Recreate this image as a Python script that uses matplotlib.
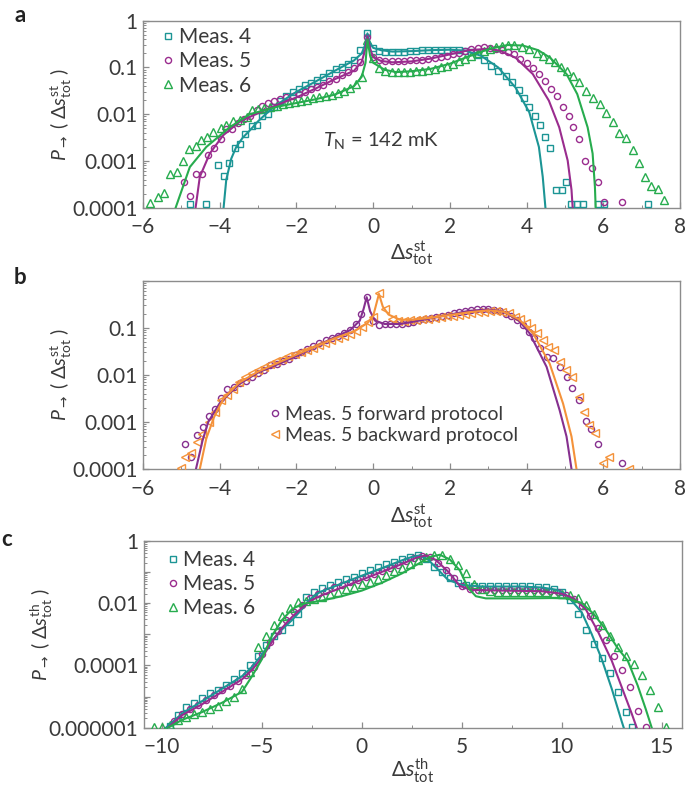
import numpy as np
import matplotlib
matplotlib.use("Agg")
import matplotlib.pyplot as plt
from matplotlib.ticker import FixedLocator, LogLocator, NullFormatter, FuncFormatter, MultipleLocator

plt.rcParams['font.family'] = ['Lato', 'DejaVu Sans']
plt.rcParams['mathtext.fontset'] = 'custom'
plt.rcParams['mathtext.rm'] = 'Lato'
plt.rcParams['mathtext.it'] = 'Lato:italic'
plt.rcParams['mathtext.sf'] = 'DejaVu Sans'
plt.rcParams['axes.unicode_minus'] = True

# ---------------- data (log10 of probability) ----------------
# Panel a, Meas. 4
a4_x = [-4.78, -4.35, -4.04, -3.90, -3.77, -3.59, -3.46, -3.33, -3.17, -3.04, -2.89, -2.74, -2.58, -2.42,
        -2.26, -2.10, -1.94, -1.78, -1.62, -1.46, -1.30, -1.14, -0.98, -0.82, -0.66, -0.50, -0.34, -0.16,
        0.00, 0.16, 0.32, 0.48, 0.64, 0.80, 0.96, 1.12, 1.28, 1.44, 1.60, 1.76, 1.92, 2.08, 2.24, 2.40,
        2.56, 2.72, 2.90, 3.08, 3.26, 3.46, 3.62, 3.80, 3.94, 4.07, 4.22, 4.36, 4.48, 4.62, 4.77, 4.91,
        5.03, 5.16, 5.31, 5.46, 5.87, 6.02, 7.17]
a4_y = [-3.93, -3.93, -3.09, -3.32, -3.04, -2.72, -2.63, -2.43, -2.26, -2.24, -2.03, -1.99, -1.85, -1.72,
        -1.62, -1.52, -1.45, -1.38, -1.33, -1.27, -1.20, -1.12, -1.04, -0.98, -0.92, -0.85, -0.62, -0.26,
        -0.58, -0.64, -0.66, -0.67, -0.66, -0.66, -0.64, -0.64, -0.63, -0.62, -0.62, -0.62, -0.62, -0.62,
        -0.63, -0.64, -0.67, -0.74, -0.85, -0.96, -1.07, -1.18, -1.32, -1.48, -1.65, -1.84, -2.03, -2.24,
        -2.49, -2.72, -3.62, -3.62, -3.46, -3.93, -3.93, -3.93, -3.93, -3.93, -3.93]
a4_fit_x = [-3.90, -3.83, -3.70, -3.57, -3.40, -3.22, -3.00, -2.87, -2.60, -2.30, -2.00, -1.50, -1.00,
            -0.50, -0.30, -0.20, -0.15, -0.10, 0.00, 0.20, 0.50, 1.00, 1.50, 2.00, 2.40, 2.81, 3.26, 3.71,
            4.07, 4.32, 4.42, 4.49]
a4_fit_y = [-4.00, -3.40, -2.95, -2.70, -2.50, -2.35, -2.15, -2.05, -1.85, -1.68, -1.52, -1.30, -1.07,
            -0.85, -0.70, -0.50, -0.27, -0.45, -0.58, -0.63, -0.66, -0.65, -0.63, -0.62, -0.64, -0.75, -1.00,
            -1.43, -1.96, -2.70, -3.34, -4.00]

# Panel a, Meas. 5
a5_x = [-4.93, -4.78, -4.63, -4.45, -4.30, -4.15, -3.98, -3.83, -3.67, -3.52, -3.37, -3.22, -3.04, -2.91,
        -2.74, -2.58, -2.42, -2.26, -2.10, -1.94, -1.78, -1.62, -1.46, -1.30, -1.14, -0.98, -0.82, -0.66,
        -0.50, -0.34, -0.16, 0.00, 0.16, 0.32, 0.48, 0.64, 0.80, 0.96, 1.12, 1.28, 1.44, 1.60, 1.76, 1.92,
        2.08, 2.24, 2.40, 2.56, 2.72, 2.88, 3.04, 3.20, 3.36, 3.52, 3.68, 3.84, 4.00, 4.16, 4.32, 4.48,
        4.64, 4.80, 4.96, 5.10, 5.22, 5.37, 5.53, 5.70, 5.87, 6.03, 6.48]
a5_y = [-3.46, -3.74, -3.28, -3.28, -2.88, -2.72, -2.54, -2.32, -2.31, -2.18, -2.11, -2.04, -1.92, -1.82,
        -1.77, -1.72, -1.68, -1.64, -1.60, -1.56, -1.52, -1.47, -1.42, -1.37, -1.30, -1.24, -1.17, -1.10,
        -1.02, -0.88, -0.34, -0.78, -0.85, -0.86, -0.87, -0.87, -0.86, -0.85, -0.84, -0.83, -0.81, -0.79,
        -0.77, -0.75, -0.72, -0.69, -0.65, -0.61, -0.59, -0.57, -0.58, -0.60, -0.62, -0.66, -0.72, -0.82,
        -0.91, -1.02, -1.14, -1.28, -1.46, -1.62, -1.84, -2.03, -2.28, -2.52, -2.99, -3.14, -3.46, -3.88,
        -3.88]
a5_fit_x = [-4.63, -4.52, -4.26, -3.91, -3.48, -3.04, -2.50, -2.00, -1.50, -1.00, -0.50, -0.30, -0.20,
            -0.15, -0.08, 0.00, 0.20, 0.50, 1.00, 1.50, 2.00, 2.50, 3.00, 3.30, 3.71, 4.16, 4.58, 4.85,
            5.07, 5.17, 5.20]
a5_fit_y = [-4.00, -3.34, -2.84, -2.45, -2.16, -1.99, -1.80, -1.64, -1.45, -1.25, -1.07, -0.88, -0.60,
            -0.33, -0.60, -0.78, -0.86, -0.89, -0.87, -0.81, -0.72, -0.63, -0.60, -0.64, -0.79, -1.14, -1.71,
            -2.28, -2.99, -3.62, -4.00]

# Panel a, Meas. 6
a6_x = [-5.83, -5.61, -5.46, -5.30, -5.11, -4.97, -4.80, -4.63, -4.48, -4.33, -4.17, -3.98, -3.83, -3.65,
        -3.48, -3.30, -3.15, -3.00, -2.84, -2.68, -2.52, -2.36, -2.20, -2.04, -1.88, -1.72, -1.56, -1.40,
        -1.24, -1.08, -0.92, -0.76, -0.60, -0.44, -0.30, -0.16, 0.00, 0.16, 0.32, 0.48, 0.64, 0.80, 0.96,
        1.12, 1.28, 1.44, 1.60, 1.76, 1.92, 2.08, 2.24, 2.40, 2.56, 2.72, 2.88, 3.04, 3.20, 3.36, 3.52,
        3.68, 3.89, 4.07, 4.27, 4.43, 4.59, 4.74, 4.90, 5.06, 5.22, 5.37, 5.55, 5.74, 5.91, 6.07, 6.24,
        6.41, 6.59, 6.77, 6.93, 7.09, 7.24, 7.42, 7.59]
a6_y = [-3.89, -3.77, -3.68, -3.28, -3.23, -3.00, -2.74, -2.69, -2.55, -2.49, -2.38, -2.29, -2.22, -2.15,
        -2.12, -2.06, -1.92, -1.89, -1.87, -1.84, -1.82, -1.79, -1.76, -1.73, -1.71, -1.69, -1.66, -1.63,
        -1.61, -1.58, -1.54, -1.50, -1.44, -1.36, -1.20, -0.42, -0.80, -1.02, -1.08, -1.10, -1.10, -1.10,
        -1.09, -1.08, -1.07, -1.05, -1.03, -1.00, -0.97, -0.92, -0.87, -0.82, -0.76, -0.70, -0.65, -0.60,
        -0.56, -0.53, -0.51, -0.51, -0.56, -0.61, -0.68, -0.75, -0.82, -0.89, -1.00, -1.07, -1.18, -1.32,
        -1.50, -1.65, -1.78, -1.98, -2.17, -2.40, -2.50, -2.76, -3.05, -3.35, -3.53, -3.59, -3.84]
a6_fit_x = [-5.15, -4.78, -4.35, -3.74, -3.22, -2.50, -2.00, -1.50, -1.00, -0.50, -0.30, -0.20, -0.15,
            -0.08, 0.00, 0.30, 0.60, 1.00, 1.50, 2.00, 2.50, 3.00, 3.50, 3.90, 4.30, 4.61, 5.04, 5.32,
            5.59, 5.72, 5.78, 5.80]
a6_fit_y = [-4.00, -3.13, -2.70, -2.28, -2.00, -1.84, -1.76, -1.68, -1.58, -1.40, -1.20, -0.90, -0.40,
            -0.75, -0.90, -1.05, -1.10, -1.08, -1.03, -0.92, -0.76, -0.61, -0.52, -0.53, -0.63, -0.79, -1.14,
            -1.57, -2.28, -2.84, -3.55, -4.00]

# Panel b, Meas. 5 forward
bf_x = [-4.91, -4.75, -4.59, -4.44, -4.29, -4.12, -3.96, -3.80, -3.64, -3.48, -3.32, -3.16, -3.00, -2.84,
        -2.68, -2.52, -2.36, -2.20, -2.04, -1.88, -1.72, -1.56, -1.40, -1.24, -1.08, -0.92, -0.76, -0.60,
        -0.44, -0.32, -0.17, 0.00, 0.15, 0.30, 0.45, 0.60, 0.75, 0.90, 1.05, 1.20, 1.35, 1.50, 1.65, 1.80,
        1.95, 2.10, 2.25, 2.40, 2.55, 2.70, 2.85, 3.00, 3.15, 3.30, 3.45, 3.60, 3.75, 3.90, 4.05, 4.20,
        4.36, 4.52, 4.70, 4.86, 5.04, 5.19, 5.37, 5.54, 5.69, 5.86, 6.48]
bf_y = [-3.46, -3.75, -3.28, -3.10, -2.88, -2.72, -2.50, -2.31, -2.25, -2.18, -2.13, -2.05, -1.97, -1.90,
        -1.80, -1.76, -1.71, -1.66, -1.58, -1.52, -1.45, -1.38, -1.33, -1.27, -1.22, -1.18, -1.12, -1.05,
        -0.92, -0.71, -0.34, -0.85, -0.94, -0.93, -0.93, -0.93, -0.92, -0.90, -0.87, -0.84, -0.82, -0.80,
        -0.77, -0.74, -0.72, -0.69, -0.66, -0.64, -0.62, -0.60, -0.60, -0.61, -0.62, -0.65, -0.70, -0.76,
        -0.84, -0.95, -1.08, -1.22, -1.42, -1.62, -1.65, -1.83, -2.04, -2.27, -2.54, -2.98, -3.14, -3.46,
        -3.87]
bf_fit_x = [-4.62, -4.45, -4.30, -4.00, -3.50, -3.00, -2.50, -2.00, -1.50, -1.00, -0.60, -0.35, -0.25,
            -0.17, -0.08, 0.05, 0.30, 0.70, 1.00, 1.50, 2.00, 2.50, 3.00, 3.40, 3.80, 4.08, 4.52, 4.86,
            5.04, 5.17]
bf_fit_y = [-4.00, -3.40, -3.00, -2.60, -2.20, -1.95, -1.78, -1.60, -1.40, -1.20, -1.05, -0.85, -0.60,
            -0.35, -0.65, -0.85, -0.92, -0.92, -0.88, -0.80, -0.72, -0.64, -0.61, -0.66, -0.85, -1.12, -1.83,
            -2.75, -3.31, -4.00]

# Panel b, Meas. 5 backward
bb_x = [-5.01, -4.90, -4.75, -4.60, -4.45, -4.29, -4.13, -3.97, -3.81, -3.65, -3.49, -3.33, -3.17, -3.01,
        -2.85, -2.69, -2.53, -2.37, -2.21, -2.05, -1.89, -1.73, -1.57, -1.41, -1.25, -1.09, -0.93, -0.77,
        -0.61, -0.45, -0.29, -0.13, 0.00, 0.15, 0.32, 0.48, 0.64, 0.80, 0.96, 1.12, 1.28, 1.44, 1.60,
        1.76, 1.92, 2.08, 2.24, 2.40, 2.56, 2.72, 2.88, 3.04, 3.20, 3.36, 3.54, 3.69, 3.82, 3.98, 4.12,
        4.27, 4.43, 4.56, 4.71, 4.86, 5.02, 5.17, 5.37, 5.49, 5.63, 5.77, 6.00, 6.16, 6.67]
bb_y = [-3.98, -3.75, -3.65, -3.42, -3.26, -3.00, -2.78, -2.54, -2.42, -2.30, -2.15, -2.05, -1.97, -1.90,
        -1.84, -1.76, -1.71, -1.66, -1.61, -1.55, -1.51, -1.47, -1.42, -1.37, -1.32, -1.26, -1.22, -1.18,
        -1.13, -1.07, -0.98, -0.88, -0.78, -0.27, -0.61, -0.82, -0.85, -0.85, -0.84, -0.83, -0.82, -0.81,
        -0.80, -0.78, -0.76, -0.74, -0.72, -0.70, -0.68, -0.67, -0.66, -0.65, -0.65, -0.66, -0.68, -0.77,
        -0.82, -0.89, -1.01, -1.11, -1.26, -1.40, -1.47, -1.72, -1.90, -2.05, -2.46, -2.78, -3.07, -3.24,
        -3.88, -3.74, -3.99]
bb_fit_x = [-4.52, -4.35, -4.15, -3.90, -3.50, -3.00, -2.50, -2.00, -1.50, -1.00, -0.50, -0.15, 0.00,
            0.08, 0.15, 0.25, 0.40, 0.70, 1.00, 1.50, 2.00, 2.50, 3.00, 3.40, 3.80, 4.17, 4.60, 4.95,
            5.17, 5.30]
bb_fit_y = [-4.00, -3.35, -2.90, -2.50, -2.17, -1.93, -1.75, -1.57, -1.40, -1.22, -1.08, -0.90, -0.75,
            -0.50, -0.28, -0.55, -0.72, -0.83, -0.83, -0.79, -0.73, -0.67, -0.63, -0.66, -0.82, -1.12, -1.76,
            -2.61, -3.31, -4.00]

# Panel c, Meas. 4
c4_x = [-9.6, -9.2, -8.8, -8.4, -8.0, -7.6, -7.2, -6.8, -6.4, -6.0, -5.6, -5.2, -4.8, -4.4, -4.0, -3.6,
        -3.2, -2.8, -2.4, -2.0, -1.6, -1.2, -0.8, -0.4, 0.0, 0.4, 0.8, 1.2, 1.6, 2.0, 2.4, 2.8, 3.2, 3.6,
        4.0, 4.4, 4.8, 5.2, 5.6, 6.0, 6.4, 6.8, 7.2, 7.6, 8.0, 8.4, 8.8, 9.2, 9.6, 10.0, 10.4, 10.8, 11.2,
        11.6, 12.0, 12.4, 12.8, 13.2, 13.5]
c4_y = [-5.95, -5.60, -5.35, -5.20, -5.05, -4.90, -4.78, -4.62, -4.45, -4.25, -4.00, -3.70, -3.35, -3.05,
        -2.85, -2.62, -2.35, -1.82, -1.65, -1.52, -1.42, -1.33, -1.24, -1.15, -1.05, -0.95, -0.85, -0.76,
        -0.67, -0.59, -0.52, -0.47, -0.58, -0.83, -1.00, -1.18, -1.35, -1.42, -1.45, -1.45, -1.45, -1.45,
        -1.45, -1.45, -1.45, -1.46, -1.48, -1.50, -1.55, -1.65, -1.90, -2.35, -2.85, -3.30, -3.75, -4.25,
        -4.85, -5.50, -5.97]
c4_fit_x = [-9.80, -9.0, -8.0, -7.0, -6.0, -5.5, -5.0, -4.5, -4.0, -3.5, -3.0, -2.7, -2.3, -2.0, -1.0,
            0.0, 1.0, 2.0, 2.5, 2.9, 3.3, 3.8, 4.3, 5.0, 6.0, 8.0, 9.0, 9.8, 10.3, 11.0, 11.5, 12.0, 12.5,
            13.0, 13.1]
c4_fit_y = [-6.00, -5.55, -5.15, -4.75, -4.35, -4.05, -3.65, -3.20, -2.85, -2.55, -2.20, -1.95, -1.72,
            -1.62, -1.37, -1.12, -0.88, -0.63, -0.52, -0.47, -0.60, -0.92, -1.25, -1.42, -1.47, -1.47,
            -1.50, -1.58, -1.78, -2.30, -3.00, -3.80, -4.75, -5.80, -6.00]

# Panel c, Meas. 5
c5_x = [-9.4, -9.0, -8.6, -8.2, -7.8, -7.4, -7.0, -6.6, -6.2, -5.8, -5.4, -5.0, -4.6, -4.2, -3.8, -3.4,
        -3.0, -2.6, -2.2, -1.8, -1.4, -1.0, -0.6, -0.2, 0.2, 0.6, 1.0, 1.4, 1.8, 2.2, 2.6, 3.0, 3.4, 3.8,
        4.2, 4.6, 5.0, 5.4, 5.8, 6.2, 6.6, 7.0, 7.4, 7.8, 8.2, 8.6, 9.0, 9.4, 9.8, 10.2, 10.6, 11.0, 11.4,
        11.8, 12.2, 12.6, 13.0, 13.4, 13.8, 14.2]
c5_y = [-5.80, -5.55, -5.40, -5.27, -5.10, -4.95, -4.80, -4.65, -4.50, -4.30, -4.05, -3.65, -3.25, -2.90,
        -2.55, -2.30, -2.05, -1.85, -1.70, -1.60, -1.50, -1.42, -1.33, -1.25, -1.17, -1.08, -0.98, -0.88,
        -0.78, -0.66, -0.55, -0.48, -0.52, -0.70, -0.95, -1.20, -1.45, -1.55, -1.57, -1.57, -1.57, -1.57,
        -1.57, -1.57, -1.57, -1.58, -1.60, -1.62, -1.66, -1.74, -1.88, -2.10, -2.40, -2.80, -3.20, -3.70,
        -4.15, -4.70, -5.45, -5.97]
c5_fit_x = [-9.7, -9.0, -8.0, -7.0, -6.0, -5.5, -5.0, -4.5, -4.0, -3.5, -3.0, -2.5, -2.0, -1.0, 0.0, 1.0,
            2.0, 2.7, 3.2, 3.7, 4.3, 4.9, 5.5, 7.0, 9.0, 10.0, 10.6, 11.2, 11.8, 12.5, 13.0, 13.5, 13.75]
c5_fit_y = [-6.00, -5.60, -5.25, -4.85, -4.45, -4.15, -3.75, -3.25, -2.80, -2.45, -2.15, -1.90, -1.75,
            -1.50, -1.25, -1.00, -0.75, -0.55, -0.47, -0.62, -0.98, -1.45, -1.58, -1.60, -1.62, -1.70,
            -1.85, -2.20, -2.90, -3.85, -4.70, -5.55, -6.00]

# Panel c, Meas. 6
c6_x = [-10.4, -10.0, -9.6, -9.2, -8.8, -8.4, -8.0, -7.6, -7.2, -6.8, -6.4, -6.0, -5.6, -5.2, -4.8, -4.4,
        -4.0, -3.6, -3.2, -2.8, -2.4, -2.0, -1.6, -1.2, -0.8, -0.4, 0.0, 0.4, 0.8, 1.2, 1.6, 2.0, 2.4,
        2.8, 3.2, 3.6, 4.0, 4.4, 4.8, 5.2, 5.6, 6.0, 6.4, 6.8, 7.2, 7.6, 8.0, 8.4, 8.8, 9.2, 9.6, 10.0,
        10.4, 10.8, 11.2, 11.6, 12.0, 12.4, 12.8, 13.2, 13.6, 14.0, 14.4, 14.8, 15.2]
c6_y = [-5.97, -5.97, -5.90, -5.75, -5.65, -5.55, -5.50, -5.40, -5.30, -5.15, -5.00, -4.75, -4.20, -3.40,
        -3.05, -2.70, -2.40, -2.15, -1.98, -1.95, -1.88, -1.80, -1.70, -1.63, -1.55, -1.47, -1.40, -1.32,
        -1.22, -1.10, -0.98, -0.86, -0.74, -0.62, -0.52, -0.46, -0.47, -0.58, -0.78, -1.05, -1.40, -1.55,
        -1.62, -1.66, -1.66, -1.66, -1.66, -1.66, -1.66, -1.66, -1.68, -1.70, -1.75, -1.85, -2.05, -2.35,
        -2.70, -3.05, -3.40, -3.70, -3.97, -4.30, -4.80, -5.35, -5.97]
c6_fit_x = [-9.7, -9.0, -8.0, -7.0, -6.0, -5.5, -5.0, -4.5, -4.0, -3.5, -3.0, -2.0, -1.0, 0.0, 1.0, 2.0,
            2.8, 3.4, 3.9, 4.4, 4.9, 5.3, 5.7, 6.2, 8.0, 9.5, 10.3, 11.0, 11.6, 12.2, 12.8, 13.3, 13.8,
            14.2, 14.5]
c6_fit_y = [-6.00, -5.75, -5.50, -5.20, -4.85, -4.35, -3.80, -3.05, -2.55, -2.20, -2.03, -1.92, -1.78,
            -1.60, -1.35, -1.05, -0.75, -0.52, -0.45, -0.60, -0.95, -1.50, -1.78, -1.85, -1.85, -1.84,
            -1.85, -2.00, -2.35, -2.85, -3.45, -3.85, -4.65, -5.40, -6.00]

x_ticks_ab = [-6, -4, -2, 0, 2, 4, 6, 8]
x_ticks_c = [-10, -5, 0, 5, 10, 15]
labels_a = {0: '1', -1: '0.1', -2: '0.01', -3: '0.001', -4: '0.0001'}
labels_b = {-1: '0.1', -2: '0.01', -3: '0.001', -4: '0.0001'}
labels_c = {0: '1', -2: '0.01', -4: '0.0001', -6: '0.000001'}

# ---------------- styling ----------------
TEAL = '#1c9595'
PURPLE = '#9a2c8e'
PURPLE_B = '#86308f'
GREEN = '#27ac4e'
ORANGE = '#f4923a'
GREY = '#8c8c8c'
TXT = '#3a3a3a'
FS = 15

fig = plt.figure(figsize=(6.85, 7.88), dpi=100)
axa = fig.add_axes([0.2088, 0.7364, 0.784, 0.2373])
axb = fig.add_axes([0.2088, 0.4048, 0.784, 0.2390])
axc = fig.add_axes([0.2102, 0.0765, 0.785, 0.2373])


def style(ax, xlim, ylow, xticks, xminor, labels):
    ax.set_yscale('log')
    ax.set_xlim(*xlim)
    ax.set_ylim(10.0 ** ylow, 1.0)
    for sp in ax.spines.values():
        sp.set_color(GREY)
        sp.set_linewidth(1.0)
    ax.tick_params(which='both', direction='in', colors=GREY, top=False, right=False)
    ax.tick_params(which='both', labelcolor=TXT, labelsize=FS)
    ax.tick_params(which='major', length=4.5, width=0.9)
    ax.tick_params(which='minor', length=2.5, width=0.7)
    ax.tick_params(axis='x', which='both', pad=7)
    ax.tick_params(axis='y', which='both', pad=4)
    ax.xaxis.set_major_locator(FixedLocator(xticks))
    ax.xaxis.set_minor_locator(MultipleLocator(xminor))
    ax.yaxis.set_major_locator(FixedLocator([10.0 ** k for k in range(ylow, 1)]))
    ax.yaxis.set_minor_locator(LogLocator(base=10, subs=np.arange(2, 10), numticks=30))
    ax.yaxis.set_minor_formatter(NullFormatter())
    ax.yaxis.set_major_formatter(
        FuncFormatter(lambda v, pos: labels.get(int(round(np.log10(v))), '')))


def pts(ax, xs, logs, marker, color, ms, label=None):
    ax.plot(xs, 10.0 ** np.asarray(logs), ls='none', marker=marker, mfc='none', mec=color,
            ms=ms, mew=1.0, label=label, zorder=3)


def fit(ax, xs, logs, color):
    ax.plot(xs, 10.0 ** np.asarray(logs), color=color, lw=1.5, zorder=4)


LEG = dict(loc='upper left', frameon=False, handlelength=0.5, handletextpad=0.25,
           labelspacing=0.2, borderpad=0, borderaxespad=0, labelcolor=TXT)

# Panel a
style(axa, (-6, 8), -4, x_ticks_ab, 1, labels_a)
pts(axa, a4_x, a4_y, 's', TEAL, 4.6, 'Meas. 4')
pts(axa, a5_x, a5_y, 'o', PURPLE, 4.4, 'Meas. 5')
pts(axa, a6_x, a6_y, '^', GREEN, 5.2, 'Meas. 6')
fit(axa, a4_fit_x, a4_fit_y, TEAL)
fit(axa, a5_fit_x, a5_fit_y, PURPLE)
fit(axa, a6_fit_x, a6_fit_y, GREEN)
axa.text(0.443, 0.362, r'$T_{\rm N}$ = 142 mK', transform=axa.transAxes, ha='center',
         va='center', fontsize=14.5, color=TXT)
axa.legend(bbox_to_anchor=(0.037, 0.965), fontsize=FS, **LEG)

# Panel b
style(axb, (-6, 8), -4, x_ticks_ab, 1, labels_b)
pts(axb, bf_x, bf_y, 'o', PURPLE_B, 4.4, 'Meas. 5 forward protocol')
pts(axb, bb_x, bb_y, '<', ORANGE, 5.2, 'Meas. 5 backward protocol')
fit(axb, bf_fit_x, bf_fit_y, PURPLE_B)
fit(axb, bb_fit_x, bb_fit_y, ORANGE)
axb.legend(bbox_to_anchor=(0.237, 0.335), fontsize=14, **LEG)

# Panel c
style(axc, (-10.9, 16.0), -6, x_ticks_c, 2.5, labels_c)
pts(axc, c4_x, c4_y, 's', TEAL, 4.6, 'Meas. 4')
pts(axc, c5_x, c5_y, 'o', PURPLE, 4.4, 'Meas. 5')
pts(axc, c6_x, c6_y, '^', GREEN, 5.2, 'Meas. 6')
fit(axc, c4_fit_x, c4_fit_y, TEAL)
fit(axc, c5_fit_x, c5_fit_y, PURPLE)
fit(axc, c6_fit_x, c6_fit_y, GREEN)
axc.legend(bbox_to_anchor=(0.044, 0.95), fontsize=FS, **LEG)

# Axis labels
ylab_st = r'$P_{\mathsf{\rightarrow}}$ ( $\Delta s^{\rm st}_{\rm tot}$ )'
ylab_th = r'$P_{\mathsf{\rightarrow}}$ ( $\Delta s^{\rm th}_{\rm tot}$ )'
for ax, yl, xl, ycx, xly in [(axa, ylab_st, r'$\Delta s^{\rm st}_{\rm tot}$', -0.128, -0.245),
                             (axb, ylab_st, r'$\Delta s^{\rm st}_{\rm tot}$', -0.128, -0.25),
                             (axc, ylab_th, r'$\Delta s^{\rm th}_{\rm tot}$', -0.166, -0.232)]:
    ax.set_ylabel(yl, fontsize=14, color=TXT)
    ax.yaxis.set_label_coords(ycx, 0.5)
    ax.set_xlabel(xl, fontsize=FS, color=TXT, va='center')
    ax.xaxis.set_label_coords(0.5, xly)

for lab, x, y in [('a', 20, 15), ('b', 20, 277), ('c', 7, 540)]:
    fig.text(x / 685, 1 - y / 788, lab, fontsize=16, fontweight='bold', ha='center',
             va='center', color='#222222')

fig.savefig('out.png', dpi=100)
